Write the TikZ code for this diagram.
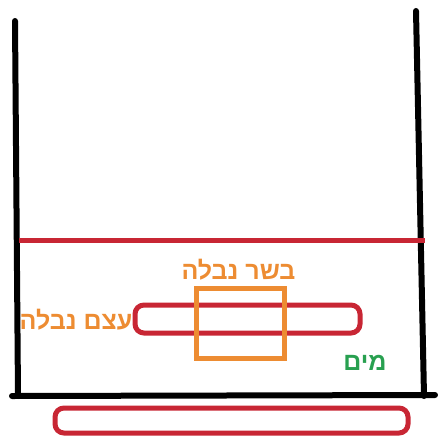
\documentclass[tikz,border=0pt]{standalone}
\usepackage{fontspec}
\TeXXeTstate=1
\newfontfamily\hebfont[Script=Hebrew]{Liberation Sans}
\definecolor{pred}{RGB}{200,38,52}
\definecolor{porange}{RGB}{237,140,50}
\definecolor{pgreen}{RGB}{40,160,80}
\tikzset{
  wall/.style={line width=6pt, black, line cap=round},
  redline/.style={line width=5pt, pred},
  pill/.style={draw=pred, line width=5pt, rounded corners=9pt, inner sep=0pt},
  lbl/.style={font=\hebfont\bfseries\fontsize{25}{28}\selectfont, inner sep=0pt}
}
\begin{document}
\begin{tikzpicture}[x=1pt,y=-1pt]
\useasboundingbox (0,0) rectangle (438,436);
\coordinate (lt) at (15,21);
\coordinate (lb) at (18,396);
\coordinate (rt) at (416,11);
\coordinate (rb) at (424,396);
\coordinate (bl) at (12,396);
\coordinate (br) at (435,395);
\coordinate (wl) at (19,240);
\coordinate (wr) at (425,240);
\node[lbl, text=porange] (tbone) at (76,320) {\beginR עצם נבלה\endR};
\draw[wall] (lt) -- (lb);
\draw[wall] (rt) -- (rb);
\draw[wall] (bl) -- (br);
\draw[redline] (wl) -- (wr);
\node[pill, minimum width=225pt, minimum height=28pt] (bone) at (247.5,319) {};
\node[draw=porange, line width=5pt, minimum width=88pt, minimum height=70pt, inner sep=0pt] (flesh) at (240,323) {};
\node[pill, minimum width=353pt, minimum height=25pt] (lower) at (231.5,420.5) {};
\node[lbl, text=porange] (tflesh) at (238.5,270) {\beginR בשר נבלה\endR};
\node[lbl, text=pgreen] (twater) at (365,363) {\beginR מים\endR};
\end{tikzpicture}
\end{document}
